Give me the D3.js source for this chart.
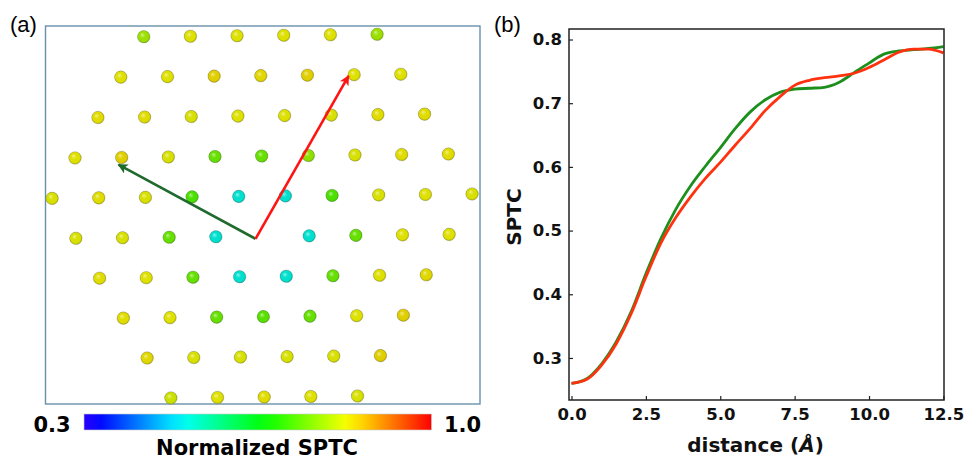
<!DOCTYPE html>
<html>
<head>
<meta charset="utf-8">
<script src="https://cdn.jsdelivr.net/npm/d3@7"></script>
<style>
  body { margin: 0; background: #fff; }
  svg { display: block; }
</style>
</head>
<body>
<div class="canvas"></div>
<script>
// ---- data: panel (a), normalized SPTC per atom, one array per lattice row (null = vacancy)
const row0 = [0.78, 0.83, 0.83, 0.83, 0.83, 0.78];
const row1 = [0.83, 0.83, 0.845, 0.84, 0.845, 0.83, 0.83];
const row2 = [0.835, 0.835, 0.825, 0.83, 0.83, 0.825, 0.835, 0.835];
const row3 = [0.83, 0.845, 0.825, 0.74, 0.74, 0.77, 0.825, 0.835, 0.835];
const row4 = [0.825, 0.835, 0.825, 0.72, 0.51, 0.51, 0.72, 0.825, 0.83, 0.825];
const row5 = [0.825, 0.825, 0.74, 0.51, null, 0.51, 0.74, 0.83, 0.83];
const row6 = [0.835, 0.83, 0.74, 0.51, 0.51, 0.74, 0.83, 0.84];
const row7 = [0.835, 0.83, 0.74, 0.73, 0.74, 0.83, 0.845];
const row8 = [0.84, 0.825, 0.825, 0.825, 0.825, 0.845];
const row9 = [0.815, 0.83, 0.835, 0.83, 0.825];
const rows = [row0, row1, row2, row3, row4, row5, row6, row7, row8, row9];
// first column offset of each row, in lattice spacings
const rowStart = [2, 1.5, 1, 0.5, 0, 0.5, 1, 1.5, 2, 2.5];

// arrows in lattice coords [u, row]
const arrowOrigin = [4.35, 5.06];
const greenTip = [1.43, 3.18];
const redTip = [6.38, 1.03];

// colour bar
const cbarDomain = [0.3, 1.0];
const cbarLabels = ['0.3', '1.0'];

// ---- data: panel (b)
const distance = [0, 0.5, 1, 1.5, 2, 2.5, 3, 3.5, 4, 4.5, 5, 5.5, 6, 6.5, 7, 7.5, 8, 8.5, 9, 9.5, 10, 10.5, 11, 11.5, 12, 12.5];
const sptcGreen = [0.260, 0.267, 0.290, 0.325, 0.372, 0.432, 0.487, 0.533, 0.570, 0.601, 0.630, 0.660, 0.686, 0.705, 0.717, 0.722, 0.7235, 0.725, 0.733, 0.748, 0.763, 0.777, 0.782, 0.784, 0.786, 0.789];
const sptcRed = [0.260, 0.266, 0.288, 0.322, 0.369, 0.427, 0.480, 0.520, 0.553, 0.582, 0.607, 0.634, 0.660, 0.688, 0.710, 0.728, 0.736, 0.740, 0.743, 0.747, 0.756, 0.768, 0.780, 0.785, 0.785, 0.779];
const xTicks = [0, 2.5, 5, 7.5, 10, 12.5];
const yTicks = [0.3, 0.4, 0.5, 0.6, 0.7, 0.8];

const svg = d3.select('.canvas')
    .append('svg')
        .attr('width', 965)
        .attr('height', 460);

const defs = svg.append('defs');

// colour map: hue runs 250 -> 0 along the bar
const hue = d3.scaleLinear().domain(cbarDomain).range([250, 0]).clamp(true);
const colour = v => d3.hsl(hue(v), 1, 0.5).formatHex();
const atomColour = v => d3.hsl(hue(v), 1, 0.44).formatHex();

// ================= panel (a) =================
const frameA = {x: 45.5, y: 26, w: 434.5, h: 378};

svg.append('rect')
    .attr('x', frameA.x)
    .attr('y', frameA.y)
    .attr('width', frameA.w)
    .attr('height', frameA.h)
    .attr('fill', 'none')
    .attr('stroke', '#6a8fac')
    .attr('stroke-width', 1.4);

svg.append('text')
    .attr('x', 10)
    .attr('y', 32)
    .attr('font-family', 'Liberation Sans, Arial, sans-serif')
    .attr('font-size', 22)
    .text('(a)');

const uScale = d3.scaleLinear().domain([0, 9]).range([52.3, 472.3]);
const rScale = d3.scaleLinear().domain([0, 9]).range([35.5, 397]);

const shine = defs.append('radialGradient')
    .attr('id', 'shine')
    .attr('cx', '50%').attr('cy', '50%').attr('r', '50%')
    .attr('fx', '36%').attr('fy', '32%');
shine.append('stop').attr('offset', '0%').attr('stop-color', '#fff').attr('stop-opacity', 0.55);
shine.append('stop').attr('offset', '45%').attr('stop-color', '#fff').attr('stop-opacity', 0);
shine.append('stop').attr('offset', '80%').attr('stop-color', '#000').attr('stop-opacity', 0);
shine.append('stop').attr('offset', '100%').attr('stop-color', '#000').attr('stop-opacity', 0.2);

const atoms = [];
rows.forEach((row, r) => {
    row.forEach((v, i) => {
        if (v !== null) atoms.push({u: rowStart[r] + i, r: r, v: v});
    });
});

const lattice = svg.append('g')
    .attr('transform', 'rotate(-0.6, 262, 216)');

lattice.selectAll('circle.atom')
    .data(atoms)
    .enter()
    .append('circle')
        .attr('class', 'atom')
        .attr('cx', d => uScale(d.u))
        .attr('cy', d => rScale(d.r))
        .attr('r', 6.3)
        .attr('fill', d => atomColour(d.v))
        .attr('stroke', 'rgba(120,120,120,0.45)')
        .attr('stroke-width', 0.6);

lattice.selectAll('circle.shine')
    .data(atoms)
    .enter()
    .append('circle')
        .attr('class', 'shine')
        .attr('cx', d => uScale(d.u))
        .attr('cy', d => rScale(d.r))
        .attr('r', 6.3)
        .attr('fill', 'url(#shine)');

// arrows
const arrows = [
    {tip: greenTip, col: '#1f6a2c', id: 'headG'},
    {tip: redTip, col: '#ff1414', id: 'headR'}
];
arrows.forEach(a => {
    defs.append('marker')
        .attr('id', a.id)
        .attr('viewBox', '0 0 10 10')
        .attr('refX', 9)
        .attr('refY', 5)
        .attr('markerUnits', 'userSpaceOnUse')
        .attr('markerWidth', 11)
        .attr('markerHeight', 10)
        .attr('orient', 'auto')
      .append('path')
        .attr('d', 'M0,0 L10,5 L0,10 L2.5,5 Z')
        .attr('fill', a.col);
});
lattice.selectAll('line.arrow')
    .data(arrows)
    .enter()
    .append('line')
        .attr('class', 'arrow')
        .attr('x1', uScale(arrowOrigin[0]))
        .attr('y1', rScale(arrowOrigin[1]))
        .attr('x2', d => uScale(d.tip[0]))
        .attr('y2', d => rScale(d.tip[1]))
        .attr('stroke', d => d.col)
        .attr('stroke-width', 2.6)
        .attr('marker-end', d => `url(#${d.id})`);

// colour bar
const cbarX = d3.scaleLinear().domain(cbarDomain).range([84, 431.5]);
const grad = defs.append('linearGradient').attr('id', 'cbar');
d3.range(0, 1.0001, 0.05).forEach(t => {
    grad.append('stop')
        .attr('offset', `${t * 100}%`)
        .attr('stop-color', colour(cbarDomain[0] + t * (cbarDomain[1] - cbarDomain[0])));
});
svg.append('rect')
    .attr('x', cbarX(cbarDomain[0]))
    .attr('y', 414)
    .attr('width', cbarX(cbarDomain[1]) - cbarX(cbarDomain[0]))
    .attr('height', 16)
    .attr('fill', 'url(#cbar)')
    .attr('stroke', '#c8c8c8')
    .attr('stroke-width', 0.6);

svg.append('text')
    .attr('x', 52).attr('y', 432)
    .attr('text-anchor', 'middle')
    .attr('font-family', 'DejaVu Sans, sans-serif')
    .attr('font-weight', 'bold')
    .attr('font-size', 21)
    .text(cbarLabels[0]);
svg.append('text')
    .attr('x', 462.5).attr('y', 432)
    .attr('text-anchor', 'middle')
    .attr('font-family', 'DejaVu Sans, sans-serif')
    .attr('font-weight', 'bold')
    .attr('font-size', 21)
    .text(cbarLabels[1]);
svg.append('text')
    .attr('x', 257).attr('y', 455)
    .attr('text-anchor', 'middle')
    .attr('font-family', 'DejaVu Sans, sans-serif')
    .attr('font-weight', 'bold')
    .attr('font-size', 21)
    .text('Normalized SPTC');

// ================= panel (b) =================
const margin = {top: 29, left: 569};
const graphWidth = 375;
const graphHeight = 371;

svg.append('text')
    .attr('x', 494)
    .attr('y', 32)
    .attr('font-family', 'Liberation Sans, Arial, sans-serif')
    .attr('font-size', 22)
    .text('(b)');

const graph = svg.append('g')
    .attr('transform', `translate(${margin.left},${margin.top})`);

const x = d3.scaleLinear()
    .domain([-0.084, 12.52])
    .range([0, graphWidth]);
const y = d3.scaleLinear()
    .domain([0.234, 0.8165])
    .range([graphHeight, 0]);

const line = d3.line()
    .x(d => x(d[0]))
    .y(d => y(d[1]))
    .curve(d3.curveMonotoneX);

graph.append('path')
    .datum(distance.map((d, i) => [d, sptcGreen[i]]))
    .attr('d', line)
    .attr('fill', 'none')
    .attr('stroke', '#1c8f1c')
    .attr('stroke-width', 2.8);

graph.append('path')
    .datum(distance.map((d, i) => [d, sptcRed[i]]))
    .attr('d', line)
    .attr('fill', 'none')
    .attr('stroke', '#ff3210')
    .attr('stroke-width', 2.8);

const xAxis = d3.axisBottom(x)
    .tickValues(xTicks)
    .tickFormat(d3.format('.1f'))
    .tickSizeInner(-4)
    .tickSizeOuter(0)
    .tickPadding(8);
const yAxis = d3.axisLeft(y)
    .tickValues(yTicks)
    .tickFormat(d3.format('.1f'))
    .tickSizeInner(-4)
    .tickSizeOuter(0)
    .tickPadding(7);

const xAxisGroup = graph.append('g')
    .attr('transform', `translate(0, ${graphHeight})`)
    .call(xAxis);
const yAxisGroup = graph.append('g')
    .call(yAxis);

[xAxisGroup, yAxisGroup].forEach(g => {
    g.select('.domain').remove();
    g.selectAll('.tick line').attr('stroke', '#222').attr('stroke-width', 1.2);
    g.selectAll('.tick text')
        .attr('fill', '#111')
        .attr('font-family', 'DejaVu Sans, sans-serif')
        .attr('font-weight', 'bold')
        .attr('font-size', 16.5);
});

graph.append('rect')
    .attr('width', graphWidth)
    .attr('height', graphHeight)
    .attr('fill', 'none')
    .attr('stroke', '#222')
    .attr('stroke-width', 1.5);

const xLabel = svg.append('text')
    .attr('x', margin.left + graphWidth / 2 - 1)
    .attr('y', 452)
    .attr('text-anchor', 'middle')
    .attr('font-family', 'DejaVu Sans, sans-serif')
    .attr('font-weight', 'bold')
    .attr('font-size', 20)
    .attr('fill', '#111');
xLabel.append('tspan').text('distance (');
xLabel.append('tspan').attr('font-style', 'italic').text('Å');
xLabel.append('tspan').text(')');

svg.append('text')
    .attr('transform', 'translate(521, 217) rotate(-90)')
    .attr('text-anchor', 'middle')
    .attr('font-family', 'DejaVu Sans, sans-serif')
    .attr('font-weight', 'bold')
    .attr('font-size', 20)
    .attr('fill', '#111')
    .text('SPTC');
</script>
</body>
</html>
